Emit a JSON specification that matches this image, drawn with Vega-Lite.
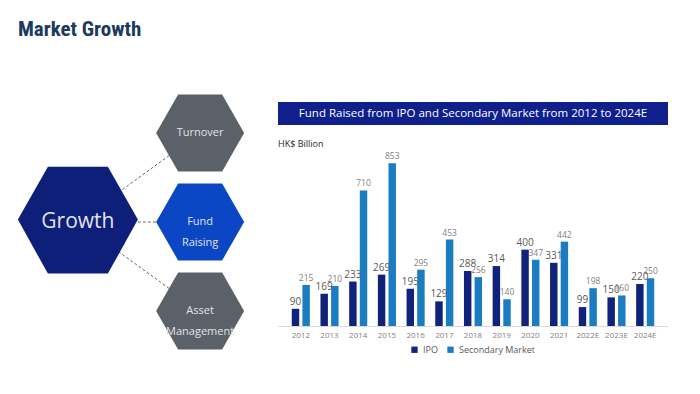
{
  "$schema": "https://vega.github.io/schema/vega-lite/v6.json",
  "background": "white",
  "padding": {"left": 17, "top": 19, "right": 0, "bottom": 0},
  "title": {"text": "Market Growth", "anchor": "start", "fontSize": 21, "fontWeight": "bold", "font": "Liberation Sans Narrow, Roboto Condensed, Liberation Sans", "color": "#1b3a5e", "offset": 54},
  "config": {"view": {"stroke": null}, "font": "Open Sans", "legend": {"layout": {"bottom": {"anchor": "middle"}}}},
  "spacing": 18,
  "resolve": {"scale": {"color": "independent", "size": "independent"}, "legend": {"color": "independent", "size": "independent"}},
  "hconcat": [
    {
      "width": 242,
      "height": 240,
      "layer": [
        {
          "data": {"values": [
            {"fromTier": "core", "fromSlot": "middle", "tier": "driver", "slot": "top"},
            {"fromTier": "core", "fromSlot": "middle", "tier": "driver", "slot": "middle"},
            {"fromTier": "core", "fromSlot": "middle", "tier": "driver", "slot": "bottom"}
          ]},
          "mark": {"type": "rule", "strokeDash": [3, 2], "color": "#6b6b6b", "strokeWidth": 1},
          "encoding": {
            "x": {"field": "fromTier", "type": "nominal", "scale": {"type": "point", "domain": ["core", "driver"], "padding": 0.49}, "axis": null},
            "x2": {"field": "tier"},
            "y": {"field": "fromSlot", "type": "nominal", "scale": {"type": "point", "domain": ["top", "middle", "bottom"], "padding": 0.348}, "axis": null},
            "y2": {"field": "slot"}
          }
        },
        {
          "data": {"values": [
            {"node": "Growth", "label": "Growth", "tier": "core", "slot": "middle", "role": "core"},
            {"node": "Turnover", "label": "Turnover", "tier": "driver", "slot": "top", "role": "other"},
            {"node": "Fund Raising", "label": "Fund\nRaising", "tier": "driver", "slot": "middle", "role": "focus"},
            {"node": "Asset Management", "label": "Asset\nManagement", "tier": "driver", "slot": "bottom", "role": "other"}
          ]},
          "encoding": {
            "x": {"field": "tier", "type": "nominal", "scale": {"type": "point", "domain": ["core", "driver"], "padding": 0.49}, "axis": null},
            "y": {"field": "slot", "type": "nominal", "scale": {"type": "point", "domain": ["top", "middle", "bottom"], "padding": 0.348}, "axis": null}
          },
          "layer": [
            {
              "mark": {"type": "point", "filled": true, "opacity": 1, "strokeWidth": 0},
              "encoding": {
                "color": {"field": "role", "type": "nominal", "scale": {"domain": ["core", "focus", "other"], "range": ["#0e1f7a", "#0b46c4", "#5b6169"]}, "legend": null},
                "size": {"field": "tier", "type": "nominal", "scale": {"domain": ["core", "driver"], "range": [14400, 7744]}, "legend": null},
                "shape": {"field": "tier", "type": "nominal", "scale": {"domain": ["core", "driver"], "range": ["M-1,-0.04L-0.5,-0.92L0.5,-0.92L1,-0.04L0.5,0.86L-0.5,0.86Z", "M-1,0L-0.5,-0.875L0.5,-0.875L1,0L0.5,0.875L-0.5,0.875Z"]}, "legend": null}
              }
            },
            {
              "mark": {"type": "text", "lineBreak": "\n", "lineHeight": 21, "align": "center", "baseline": "middle", "color": "#e3e3e3"},
              "encoding": {
                "text": {"field": "label"},
                "size": {"field": "tier", "type": "nominal", "scale": {"domain": ["core", "driver"], "range": [21, 11]}, "legend": null}
              }
            }
          ],
          "resolve": {"scale": {"size": "independent"}}
        }
      ]
    },
    {
      "spacing": 15,
      "vconcat": [
        {
          "width": 390,
          "height": 23,
          "view": {"fill": "#0f1f8c", "stroke": null},
          "data": {"values": [{"t": "Fund Raised from IPO and Secondary Market from 2012 to 2024E"}]},
          "mark": {"type": "text", "color": "white", "fontSize": 11.5, "baseline": "middle", "align": "center"},
          "encoding": {"text": {"field": "t"}}
        },
        {
          "width": 390,
          "height": 168,
          "title": {"text": "HK$ Billion", "anchor": "start", "fontSize": 9, "fontWeight": "normal", "color": "#262626", "offset": 3},
          "data": {"values": [
            {"year": "2012", "series": "IPO", "value": 90},
            {"year": "2012", "series": "Secondary Market", "value": 215},
            {"year": "2013", "series": "IPO", "value": 169},
            {"year": "2013", "series": "Secondary Market", "value": 210},
            {"year": "2014", "series": "IPO", "value": 233},
            {"year": "2014", "series": "Secondary Market", "value": 710},
            {"year": "2015", "series": "IPO", "value": 269},
            {"year": "2015", "series": "Secondary Market", "value": 853},
            {"year": "2016", "series": "IPO", "value": 195},
            {"year": "2016", "series": "Secondary Market", "value": 295},
            {"year": "2017", "series": "IPO", "value": 129},
            {"year": "2017", "series": "Secondary Market", "value": 453},
            {"year": "2018", "series": "IPO", "value": 288},
            {"year": "2018", "series": "Secondary Market", "value": 256},
            {"year": "2019", "series": "IPO", "value": 314},
            {"year": "2019", "series": "Secondary Market", "value": 140},
            {"year": "2020", "series": "IPO", "value": 400},
            {"year": "2020", "series": "Secondary Market", "value": 347},
            {"year": "2021", "series": "IPO", "value": 331},
            {"year": "2021", "series": "Secondary Market", "value": 442},
            {"year": "2022E", "series": "IPO", "value": 99},
            {"year": "2022E", "series": "Secondary Market", "value": 198},
            {"year": "2023E", "series": "IPO", "value": 150},
            {"year": "2023E", "series": "Secondary Market", "value": 160},
            {"year": "2024E", "series": "IPO", "value": 220},
            {"year": "2024E", "series": "Secondary Market", "value": 250}
          ]},
          "encoding": {
            "x": {"field": "year", "type": "ordinal", "sort": null, "scale": {"paddingInner": 0.37, "paddingOuter": 0.48},
                  "axis": {"title": null, "labelAngle": 0, "ticks": false, "domainColor": "#d9d9d9", "labelColor": "#7f7f7f", "labelFontSize": 8, "labelPadding": 5}},
            "xOffset": {"field": "series", "type": "nominal", "sort": ["IPO", "Secondary Market"], "scale": {"paddingInner": 0.3}},
            "y": {"field": "value", "type": "quantitative", "scale": {"domain": [0, 880]}, "axis": null}
          },
          "layer": [
            {
              "mark": {"type": "bar"},
              "encoding": {
                "color": {"field": "series", "type": "nominal", "sort": ["IPO", "Secondary Market"],
                          "scale": {"domain": ["IPO", "Secondary Market"], "range": ["#10227a", "#1a7cc1"]},
                          "legend": {"title": null, "orient": "bottom", "direction": "horizontal", "symbolType": "square", "symbolSize": 40, "labelFontSize": 9, "labelColor": "#595959", "offset": 6, "columnPadding": 8}}
              }
            },
            {
              "transform": [{"filter": "datum.series === 'IPO'"}],
              "mark": {"type": "text", "dy": -7, "fontSize": 10, "color": "#595959"},
              "encoding": {"text": {"field": "value", "type": "quantitative"}}
            },
            {
              "transform": [{"filter": "datum.series === 'Secondary Market'"}],
              "mark": {"type": "text", "dy": -7, "fontSize": 8.5, "color": "#808080"},
              "encoding": {"text": {"field": "value", "type": "quantitative"}}
            }
          ]
        }
      ]
    }
  ]
}
